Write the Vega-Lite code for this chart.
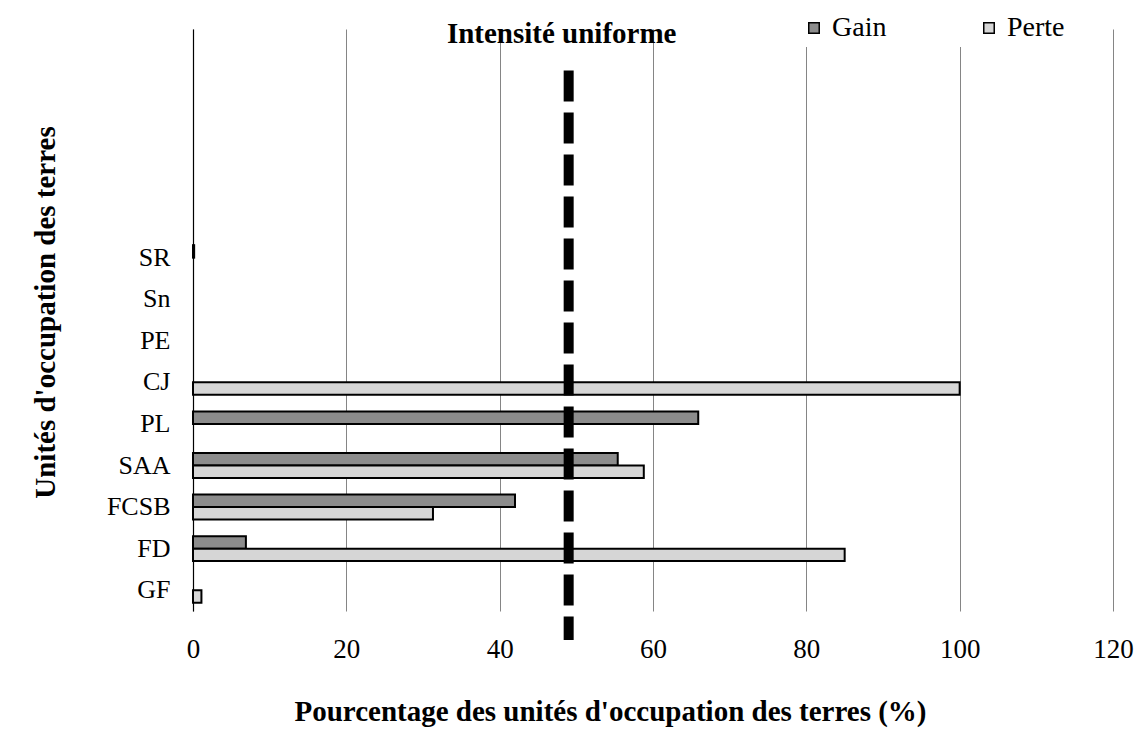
{
  "$schema": "https://vega.github.io/schema/vega-lite/v6.json",
  "autosize": {"type": "none"},
  "padding": {"left": 193, "top": 29, "right": 30, "bottom": 129},
  "width": 920,
  "height": 582,
  "background": "white",
  "config": {
    "font": "Liberation Serif",
    "view": {"stroke": null}
  },
  "datasets": {
    "barres": [
      {"unite": "SR", "type": "Gain", "valeur": 0.15},
      {"unite": "CJ", "type": "Perte", "valeur": 100},
      {"unite": "PL", "type": "Gain", "valeur": 65.9},
      {"unite": "SAA", "type": "Gain", "valeur": 55.4},
      {"unite": "SAA", "type": "Perte", "valeur": 58.8},
      {"unite": "FCSB", "type": "Gain", "valeur": 42.0},
      {"unite": "FCSB", "type": "Perte", "valeur": 31.3},
      {"unite": "FD", "type": "Gain", "valeur": 6.9},
      {"unite": "FD", "type": "Perte", "valeur": 85.0},
      {"unite": "GF", "type": "Perte", "valeur": 1.1}
    ],
    "ligne": [
      {"intensite": 49, "label": "Intensité uniforme"}
    ]
  },
  "layer": [
    {
      "data": {"name": "barres"},
      "mark": {"type": "bar", "stroke": "black", "strokeWidth": 2},
      "encoding": {
        "y": {
          "field": "unite",
          "type": "nominal",
          "scale": {
            "domain": ["_1", "_2", "_3", "_4", "_5", "SR", "Sn", "PE", "CJ", "PL", "SAA", "FCSB", "FD", "GF"],
            "paddingInner": 0.4,
            "paddingOuter": 0.2
          },
          "axis": {
            "title": "Unités d'occupation des terres",
            "titleFont": "Liberation Serif",
            "titleFontSize": 29,
            "titleFontWeight": "bold",
            "titleColor": "black",
            "titleX": -148,
            "titleY": 283,
            "titleAngle": -90,
            "titleBaseline": "middle",
            "titleAlign": "center",
            "labelExpr": "indexof(datum.label, '_') == 0 ? '' : datum.label",
            "labelFont": "Liberation Serif",
            "labelFontSize": 26,
            "labelColor": "black",
            "labelPadding": 23,
            "ticks": false,
            "tickSize": 0,
            "domain": true,
            "domainColor": "black",
            "domainWidth": 1.2,
            "grid": false
          }
        },
        "yOffset": {
          "field": "type",
          "type": "nominal",
          "scale": {"domain": ["Gain", "Perte"], "paddingInner": 0, "paddingOuter": 0}
        },
        "x": {
          "field": "valeur",
          "type": "quantitative",
          "scale": {"domain": [0, 120], "nice": false},
          "axis": {
            "values": [0, 20, 40, 60, 80, 100, 120],
            "title": "Pourcentage des unités d'occupation des terres (%)",
            "titleFont": "Liberation Serif",
            "titleFontSize": 29,
            "titleFontWeight": "bold",
            "titleColor": "black",
            "titleX": 417,
            "titleY": 100,
            "titleBaseline": "middle",
            "titleAlign": "center",
            "labelFont": "Liberation Serif",
            "labelFontSize": 27,
            "labelColor": "black",
            "labelPadding": 25,
            "labelFlush": false,
            "ticks": false,
            "tickSize": 0,
            "domain": false,
            "grid": true,
            "gridColor": "#858585",
            "gridWidth": 1
          }
        },
        "color": {
          "field": "type",
          "type": "nominal",
          "scale": {"domain": ["Gain", "Perte"], "range": ["#8c8c8c", "#d6d6d6"]},
          "legend": {
            "title": null,
            "orient": "none",
            "legendX": 602,
            "legendY": -20,
            "direction": "horizontal",
            "fillColor": "white",
            "padding": 5,
            "columnPadding": 88,
            "symbolType": "square",
            "symbolSize": 110,
            "symbolStrokeColor": "black",
            "symbolStrokeWidth": 1.5,
            "labelFont": "Liberation Serif",
            "labelFontSize": 28,
            "labelColor": "black",
            "labelOffset": 4
          }
        }
      }
    },
    {
      "data": {"name": "ligne"},
      "mark": {"type": "rule", "stroke": "black", "strokeWidth": 10, "strokeDash": [31, 11]},
      "encoding": {
        "x": {"field": "intensite", "type": "quantitative"},
        "y": {"datum": "_1", "bandPosition": 1.331},
        "y2": {"datum": "GF", "bandPosition": 2.496}
      }
    },
    {
      "data": {"name": "ligne"},
      "mark": {"type": "text", "font": "Liberation Serif", "fontSize": 29, "fontWeight": "bold", "color": "black", "align": "center", "baseline": "alphabetic", "dx": -7, "dy": 6},
      "encoding": {
        "x": {"field": "intensite", "type": "quantitative"},
        "y": {"datum": "_1", "bandPosition": 0},
        "text": {"field": "label"}
      }
    }
  ]
}
